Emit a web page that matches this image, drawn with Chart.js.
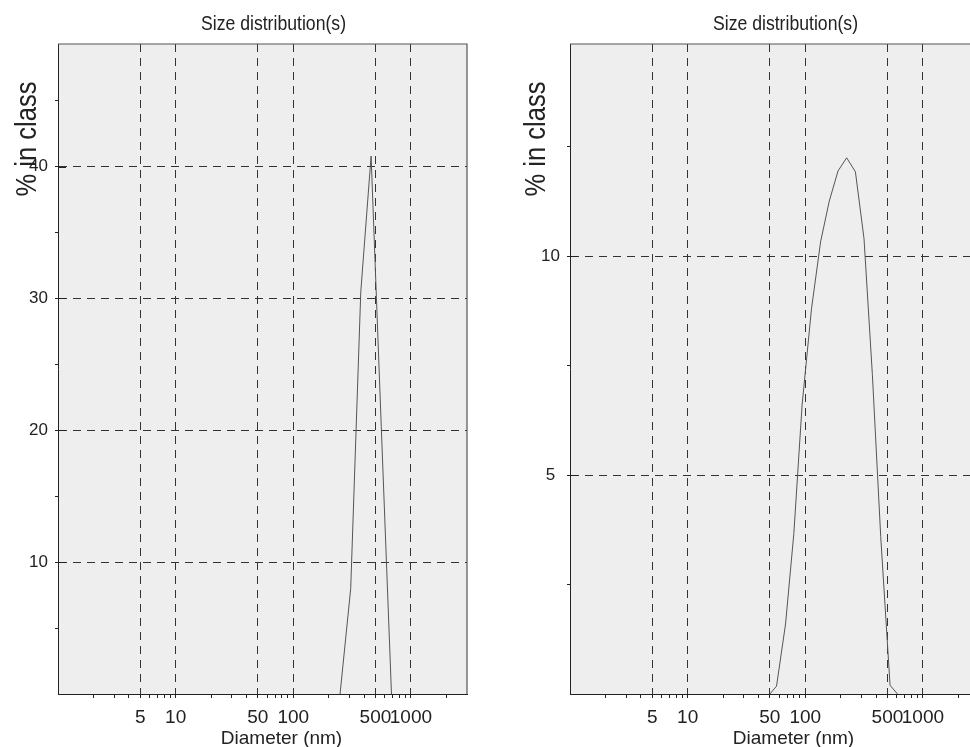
<!DOCTYPE html>
<html>
<head>
<meta charset="utf-8">
<script src="https://cdn.jsdelivr.net/npm/chart.js@4.4.1/dist/chart.umd.min.js"></script>
<style>
  html, body { margin: 0; padding: 0; background: #fff; overflow: hidden; width: 970px; height: 747px; }
  canvas { position: absolute; top: 0; }
  #leftChart { left: 0; }
  #rightChart { left: 490px; }
</style>
</head>
<body>
<canvas id="leftChart" width="485" height="747"></canvas>
<canvas id="rightChart" width="510" height="747"></canvas>
<script>
// left sample
const leftDiameters = [250, 308, 375, 459, 560, 684];
const leftPercent = [0, 8.0, 30.5, 40.8, 20.3, 0];

// right sample
const rightDiameters = [50, 57, 68, 80, 94, 113, 135, 160, 190, 225, 267, 316, 372, 438, 526, 608];
const rightPercent = [0, 0.18, 1.6, 3.67, 6.6, 8.8, 10.33, 11.26, 11.95, 12.25, 11.93, 10.4, 7.3, 3.6, 0.2, 0];

// axes
const xTickValues = [2, 3, 4, 5, 6, 7, 8, 9, 10, 20, 30, 40, 50, 60, 70, 80, 90, 100, 200, 300, 400, 500, 600, 700, 800, 900, 1000, 2000];
const xTickLabels = [5, 10, 50, 100, 500, 1000];
const leftYTicks = [5, 10, 15, 20, 25, 30, 35, 40, 45];
const leftYLabels = [10, 20, 30, 40];
const rightYTicks = [2.5, 5, 7.5, 10, 12.5];
const rightYLabels = [5, 10];

const titleText = 'Size distribution(s)';
const xTitle = 'Diameter (nm)';
const yTitle = '% in class';

const FONT = '"Liberation Sans", Arial, sans-serif';

// squeezed text, the original font is narrower than Arial
function narrowText(c, text, x, y, size, squeeze, angle) {
    c.save();
    c.translate(x, y);
    if (angle) c.rotate(angle);
    c.scale(squeeze, 1);
    c.font = size + 'px ' + FONT;
    c.fillStyle = '#222';
    c.textAlign = 'center';
    c.textBaseline = 'alphabetic';
    c.fillText(text, 0, 0);
    c.restore();
}

function frame(yTitleX) {
    return {
        id: 'frame',
        beforeDraw(chart) {
            const a = chart.chartArea, c = chart.ctx;
            c.save();
            c.fillStyle = '#eeeeee';
            c.fillRect(a.left, a.top, a.right - a.left, a.bottom - a.top);
            c.restore();
        },
        afterDraw(chart) {
            const a = chart.chartArea, c = chart.ctx;
            const mid = (a.left + a.right) / 2;
            c.save();
            c.strokeStyle = '#555';
            c.lineWidth = 1.2;
            c.beginPath();
            c.moveTo(a.left, a.top);
            c.lineTo(a.right, a.top);
            c.lineTo(a.right, a.bottom);
            c.stroke();
            // major y ticks poke into the plot a little
            c.strokeStyle = '#222';
            c.lineWidth = 1;
            const ys = chart.scales.y;
            ys.ticks.forEach(t => {
                if (!ys.options.ticks.callback(t.value)) return;
                const py = Math.round(ys.getPixelForValue(t.value)) + 0.5;
                c.beginPath();
                c.moveTo(a.left, py);
                c.lineTo(a.left + 8, py);
                c.stroke();
            });
            c.restore();

            narrowText(c, titleText, mid + 11, 30, 21, 0.84, 0);
            narrowText(c, yTitle, yTitleX, 139, 30, 0.85, -Math.PI / 2);

            c.save();
            c.font = '19px ' + FONT;
            c.fillStyle = '#222';
            c.textAlign = 'center';
            c.textBaseline = 'middle';
            c.fillText(xTitle, mid + 19, 739);
            c.restore();
        }
    };
}

function makeChart(id, diam, pct, yMax, yTicks, yLabels, yWidth, padRight, yTitleX) {
    const ctx = document.getElementById(id).getContext('2d');
    return new Chart(ctx, {
        type: 'line',
        data: {
            datasets: [{
                data: diam.map((d, i) => ({ x: d, y: pct[i] })),
                borderColor: '#555',
                borderWidth: 1,
                pointRadius: 0,
                tension: 0,
                fill: false
            }]
        },
        options: {
            responsive: false,
            animation: false,
            devicePixelRatio: 1,
            layout: { padding: { left: 0, right: padRight, top: 44, bottom: 0 } },
            plugins: {
                legend: { display: false },
                tooltip: { enabled: false },
                title: { display: false }
            },
            scales: {
                x: {
                    type: 'logarithmic',
                    min: 1,
                    max: 3000,
                    afterBuildTicks: s => { s.ticks = xTickValues.map(v => ({ value: v })); },
                    afterFit: s => { s.height = 53; },
                    ticks: {
                        autoSkip: false,
                        maxRotation: 0,
                        padding: 8,
                        color: '#222',
                        font: { family: FONT, size: 19 },
                        callback: v => xTickLabels.includes(v) ? String(v) : ''
                    },
                    grid: {
                        color: c => xTickLabels.includes(c.tick && c.tick.value) ? '#333' : 'transparent',
                        tickColor: '#222',
                        tickLength: 4,
                        lineWidth: 1
                    },
                    border: { color: '#222', width: 1, dash: [8, 6] },
                    title: { display: false }
                },
                y: {
                    min: 0,
                    max: yMax,
                    afterBuildTicks: s => { s.ticks = yTicks.map(v => ({ value: v })); },
                    afterFit: s => { s.width = yWidth; },
                    ticks: {
                        padding: 7,
                        crossAlign: 'center',
                        color: '#222',
                        font: { family: FONT, size: 17 },
                        callback: v => yLabels.includes(v) ? String(v) : ''
                    },
                    grid: {
                        color: c => yLabels.includes(c.tick && c.tick.value) ? '#333' : 'transparent',
                        tickColor: '#222',
                        tickLength: 3,
                        lineWidth: 1
                    },
                    border: { color: '#222', width: 1, dash: [8, 6] },
                    title: { display: false }
                }
            }
        },
        plugins: [frame(yTitleX)]
    });
}

makeChart('leftChart', leftDiameters, leftPercent, 49.3, leftYTicks, leftYLabels, 58, 18, 36);
makeChart('rightChart', rightDiameters, rightPercent, 14.85, rightYTicks, rightYLabels, 80, 21, 55);
</script>
</body>
</html>
